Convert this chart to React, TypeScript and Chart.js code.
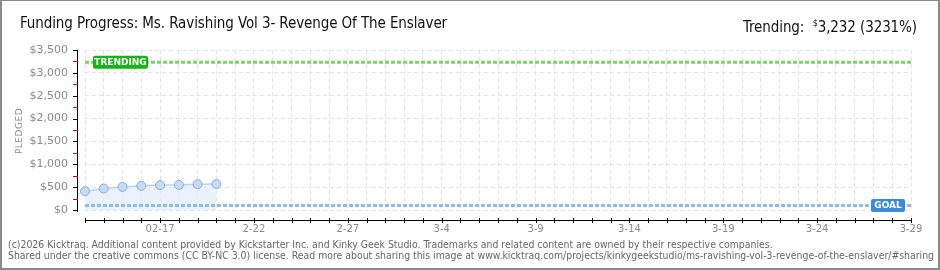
import React, { useEffect, useRef } from "react";
import { Chart, registerables } from "chart.js";

Chart.register(...registerables);

const categories = [
  "2-13", "2-14", "2-15", "2-16", "2-17", "2-18", "2-19", "2-20", "2-21", "2-22",
  "2-23", "2-24", "2-25", "2-26", "2-27", "2-28", "3-1", "3-2", "3-3", "3-4",
  "3-5", "3-6", "3-7", "3-8", "3-9", "3-10", "3-11", "3-12", "3-13", "3-14",
  "3-15", "3-16", "3-17", "3-18", "3-19", "3-20", "3-21", "3-22", "3-23", "3-24",
  "3-25", "3-26", "3-27", "3-28", "3-29",
];
const tickLabels = ["02-17", "2-22", "2-27", "3-4", "3-9", "3-14", "3-19", "3-24", "3-29"];
const pledged = [410, 470, 505, 530, 545, 550, 565, 568];
const GOAL = 100;
const TRENDING = 3232;
const Y_MAX = 3500;
const Y_STEP = 500;
const MINOR_STEP = 250;

const TITLE = "Funding Progress: Ms. Ravishing Vol 3- Revenge Of The Enslaver";
const FOOTER1 =
  "(c)2026 Kicktraq. Additional content provided by Kickstarter Inc. and Kinky Geek Studio. Trademarks and related content are owned by their respective companies.";
const FOOTER2 =
  "Shared under the creative commons (CC BY-NC 3.0) license. Read more about sharing this image at www.kicktraq.com/projects/kinkygeekstudio/ms-ravishing-vol-3-revenge-of-the-enslaver/#sharing";

const tickFont = "'DejaVu Sans', sans-serif";
const titleFont = "'Liberation Sans Narrow', 'DejaVu Sans Condensed', sans-serif";

function roundRect(ctx: CanvasRenderingContext2D, x: number, y: number, w: number, h: number, r: number) {
  ctx.beginPath();
  ctx.moveTo(x + r, y);
  ctx.lineTo(x + w - r, y);
  ctx.quadraticCurveTo(x + w, y, x + w, y + r);
  ctx.lineTo(x + w, y + h - r);
  ctx.quadraticCurveTo(x + w, y + h, x + w - r, y + h);
  ctx.lineTo(x + r, y + h);
  ctx.quadraticCurveTo(x, y + h, x, y + h - r);
  ctx.lineTo(x, y + r);
  ctx.quadraticCurveTo(x, y, x + r, y);
  ctx.closePath();
}

const axesPlugin = {
  id: "kicktraqAxes",
  afterDraw(chart: any) {
    const ctx: CanvasRenderingContext2D = chart.ctx;
    const ys = chart.scales.y;
    const xs = chart.scales.x;
    const top = Math.round(ys.getPixelForValue(Y_MAX));
    const bottom = Math.round(ys.getPixelForValue(0));
    const left = Math.round(xs.getPixelForValue(0));
    const right = Math.round(xs.getPixelForValue(categories.length - 1));
    ctx.save();
    // y axis
    const axX = left - 8;
    ctx.fillStyle = "#000000";
    ctx.fillRect(axX, top, 1, bottom - top + 2);
    for (let v = 0; v <= Y_MAX; v += MINOR_STEP) {
      const y = Math.round(ys.getPixelForValue(v));
      ctx.fillStyle = v % Y_STEP === 0 ? "#000000" : "#dd0000";
      ctx.fillRect(axX - 4, y, 5, 1);
    }
    // x axis
    const axY = bottom + 10;
    ctx.fillStyle = "#000000";
    ctx.fillRect(left, axY, right - left + 1, 1);
    for (let i = 0; i < categories.length; i++) {
      const x = Math.round(xs.getPixelForValue(i));
      ctx.fillRect(x, axY - 2, 1, 5);
    }
    // TRENDING label
    const ty = ys.getPixelForValue(TRENDING);
    ctx.fillStyle = "#16b316";
    roundRect(ctx, left + 8, ty - 6.5, 55, 13, 2);
    ctx.fill();
    ctx.fillStyle = "#ffffff";
    ctx.font = "bold 9px " + tickFont;
    ctx.textBaseline = "middle";
    ctx.textAlign = "center";
    ctx.fillText("TRENDING", left + 8 + 27.5, ty + 0.5);
    // GOAL label
    const gy = ys.getPixelForValue(GOAL);
    ctx.fillStyle = "#3d8ad8";
    roundRect(ctx, right - 40, gy - 6.5, 34, 13, 2);
    ctx.fill();
    ctx.fillStyle = "#ffffff";
    ctx.fillText("GOAL", right - 40 + 17, gy + 0.5);
    ctx.restore();
  },
};

export default function App() {
  const ref = useRef<HTMLCanvasElement>(null);
  useEffect(() => {
    if (!ref.current) return;
    const n = categories.length;
    const chart = new Chart(ref.current, {
      type: "line",
      data: {
        labels: categories,
        datasets: [
          {
            label: "Trending",
            data: categories.map(() => TRENDING),
            borderColor: "#7ed070",
            borderWidth: 3,
            borderDash: [4, 2],
            pointRadius: 0,
            fill: false,
            order: 1,
          },
          {
            label: "Goal",
            data: categories.map(() => GOAL),
            borderColor: "#8fbbea",
            borderWidth: 3,
            borderDash: [4, 2],
            pointRadius: 0,
            fill: false,
            order: 1,
          },
          {
            label: "Pledged",
            data: [...pledged, ...Array(n - pledged.length).fill(null)],
            borderColor: "#b9d5f2",
            borderWidth: 1.5,
            backgroundColor: "rgba(226,238,252,0.75)",
            fill: "origin",
            pointRadius: 4.5,
            pointBorderWidth: 1,
            pointBackgroundColor: "#c5dcf6",
            pointBorderColor: "#93abcc",
            tension: 0,
            order: 2,
          },
        ],
      },
      options: {
        animation: false,
        responsive: false,
        maintainAspectRatio: false,
        layout: { padding: { left: 0, top: 50, right: 29, bottom: 0 } },
        plugins: { legend: { display: false }, tooltip: { enabled: false } },
        scales: {
          x: {
            type: "category",
            offset: false,
            grid: { color: "#e3e3e3", drawTicks: false },
            border: { display: false, dash: [4, 3] },
            ticks: {
              autoSkip: false,
              maxRotation: 0,
              padding: 13,
              color: "#8a8a8a",
              font: { family: tickFont, size: 10 },
              callback: (_v: any, i: number) => {
                const k = i - 4;
                return k >= 0 && k % 5 === 0 ? tickLabels[k / 5] : "";
              },
            },
            afterFit: (s: any) => {
              s.height = 60;
            },
          },
          y: {
            min: 0,
            max: Y_MAX,
            grid: { color: "#e3e3e3", drawTicks: false },
            border: { display: false, dash: [4, 3] },
            ticks: {
              stepSize: Y_STEP,
              padding: 17,
              color: "#8a8a8a",
              font: { family: tickFont, size: 11 },
              callback: (v: any) => "$" + Number(v).toLocaleString("en-US"),
            },
            afterFit: (s: any) => {
              s.width = 85;
            },
          },
        },
      },
      plugins: [axesPlugin],
    });
    return () => chart.destroy();
  }, []);

  return (
    <div
      style={{
        position: "fixed",
        left: 0,
        top: 0,
        width: 940,
        height: 270,
        background: "#fff",
        overflow: "hidden",
      }}
    >
      <canvas ref={ref} width={940} height={270} style={{ position: "absolute", left: 0, top: 0, width: 940, height: 270 }} />
      <div
        style={{
          position: "absolute",
          left: 0,
          top: 0,
          width: 940,
          height: 270,
          boxSizing: "border-box",
          borderStyle: "solid",
          borderColor: "#8a8a8a",
          borderWidth: "1px 2px 2px 2px",
          pointerEvents: "none",
        }}
      />
      <div
        style={{
          position: "absolute",
          left: 20,
          top: 13,
          fontFamily: titleFont,
          fontSize: 15,
          letterSpacing: -0.1,
          lineHeight: "20px",
          color: "#111",
          whiteSpace: "nowrap",
        }}
      >
        {TITLE}
      </div>
      <div
        style={{
          position: "absolute",
          right: 23,
          top: 13,
          fontFamily: titleFont,
          fontSize: 15,
          letterSpacing: -0.1,
          lineHeight: "20px",
          color: "#111",
          whiteSpace: "nowrap",
        }}
      >
        Trending:&nbsp; <sup style={{ fontSize: 9 }}>$</sup>3,232 (3231%)
      </div>
      <div
        style={{
          position: "absolute",
          left: 9,
          top: 116,
          width: 20,
          height: 30,
          display: "flex",
          alignItems: "center",
          justifyContent: "center",
        }}
      >
        <div
          style={{
            transform: "rotate(-90deg)",
            fontFamily: "'DejaVu Sans', sans-serif",
            fontSize: 9,
            letterSpacing: 0.5,
            color: "#8a8a8a",
            whiteSpace: "nowrap",
          }}
        >
          PLEDGED
        </div>
      </div>
      <div
        style={{
          position: "absolute",
          left: 8,
          top: 239,
          fontFamily: "'DejaVu Sans Condensed', 'Liberation Sans Narrow', sans-serif",
          fontSize: 10.4,
          lineHeight: "11px",
          color: "#666",
          whiteSpace: "nowrap",
        }}
      >
        <div>{FOOTER1}</div>
        <div>{FOOTER2}</div>
      </div>
    </div>
  );
}
